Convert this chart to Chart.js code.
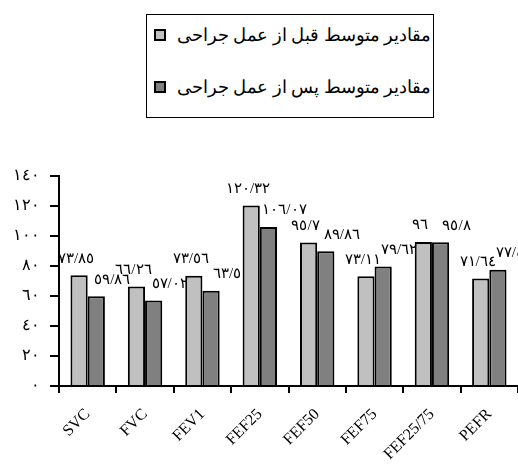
<!DOCTYPE html>
<html>
<head>
<meta charset="utf-8">
<script src="https://cdn.jsdelivr.net/npm/chart.js@4.4.1/dist/chart.umd.min.js"></script>
<style>
  html, body { margin: 0; padding: 0; background: #fff; }
  #wrap { position: relative; width: 518px; height: 471px; }
  #c { position: absolute; left: 0; top: 0; }
  #legend { position: absolute; left: 146px; top: 14px; width: 286px; height: 102px;
            border: 1px solid #000; background: #fff; font-family: "Liberation Serif", "DejaVu Serif", serif; }
  .row { position: absolute; left: 0; width: 286px; height: 24px; }
  .sw { position: absolute; left: 7px; top: 6px; width: 8px; height: 8px; border: 2px solid #000; }
  .txt { position: absolute; right: 2px; top: 0; direction: rtl; font-size: 18px; line-height: 24px; white-space: nowrap; color: #000; }
</style>
</head>
<body>
<div id="wrap">
  <canvas id="c" width="518" height="471"></canvas>
  <div id="legend"></div>
</div>
<script>
// ---- data ----
const categories = ["SVC", "FVC", "FEV1", "FEF25", "FEF50", "FEF75", "FEF25/75", "PEFR"];
const seriesNames = ["مقادیر متوسط قبل از عمل جراحی", "مقادیر متوسط پس از عمل جراحی"];
const beforeSurgery = [73.85, 66.26, 73.56, 120.32, 95.7, 73.11, 96, 71.64];
const afterSurgery = [59.86, 57.02, 63.5, 106.07, 89.86, 79.62, 95.8, 77.47];
const yTicks = [0, 20, 40, 60, 80, 100, 120, 140];
const seriesColors = ["#c0c0c0", "#808080"];

const AR = "٠١٢٣٤٥٦٧٨٩";
function toAr(v) {
  return String(v).replace(/[0-9]/g, d => AR[+d]).replace(".", "/");
}

// legend (HTML)
const legendEl = document.getElementById("legend");
const rowTops = [8, 60];
seriesNames.forEach((n, i) => {
  const row = document.createElement("div");
  row.className = "row";
  row.style.top = rowTops[i] + "px";
  const sw = document.createElement("div");
  sw.className = "sw";
  sw.style.background = seriesColors[i];
  const t = document.createElement("span");
  t.className = "txt";
  t.textContent = n;
  row.appendChild(sw);
  row.appendChild(t);
  legendEl.appendChild(row);
});

const labelFont = '15px "Liberation Serif", "DejaVu Serif", serif';
const labelOffsets = [-3, 16];

const dataLabels = {
  id: "valueLabels",
  afterDatasetsDraw(chart) {
    const ctx = chart.ctx;
    ctx.save();
    ctx.font = labelFont;
    ctx.fillStyle = "#000";
    ctx.textAlign = "center";
    ctx.textBaseline = "bottom";
    chart.data.datasets.forEach((ds, di) => {
      const meta = chart.getDatasetMeta(di);
      meta.data.forEach((el, i) => {
        ctx.fillText(toAr(ds.data[i]), el.x + labelOffsets[di], el.y - 9);
      });
    });
    ctx.restore();
  }
};

new Chart(document.getElementById("c"), {
  type: "bar",
  data: {
    labels: categories,
    datasets: [
      { label: seriesNames[0], data: beforeSurgery, backgroundColor: seriesColors[0], borderColor: "#000", borderWidth: 2, borderSkipped: "bottom" },
      { label: seriesNames[1], data: afterSurgery, backgroundColor: seriesColors[1], borderColor: "#000", borderWidth: 2, borderSkipped: "bottom" }
    ]
  },
  options: {
    responsive: false,
    animation: false,
    layout: { padding: { top: 176, left: 0, right: 0, bottom: 0 } },
    plugins: { legend: { display: false }, tooltip: { enabled: false } },
    datasets: { bar: { categoryPercentage: 0.6, barPercentage: 1.0 } },
    scales: {
      x: {
        grid: { display: true, drawOnChartArea: false, drawTicks: true, tickLength: 7, color: "#000", lineWidth: 2, offset: true },
        border: { display: true, color: "#000", width: 2 },
        ticks: { color: "#000", font: { family: '"Liberation Serif", serif', size: 16 }, minRotation: 45, maxRotation: 45, padding: 12, autoSkip: false },
        afterFit(s) { s.height = 85; }
      },
      y: {
        min: 0, max: 140,
        afterBuildTicks(s) { s.ticks = yTicks.map(v => ({ value: v })); },
        grid: { display: true, drawOnChartArea: false, drawTicks: true, tickLength: 9, color: "#000", lineWidth: 2 },
        border: { display: true, color: "#000", width: 2 },
        ticks: { color: "#000", font: { family: '"Liberation Serif", "DejaVu Serif", serif', size: 16 }, padding: 10, callback: v => toAr(v) },
        afterFit(s) { s.width = 59; }
      }
    }
  },
  plugins: [dataLabels]
});
</script>
</body>
</html>
